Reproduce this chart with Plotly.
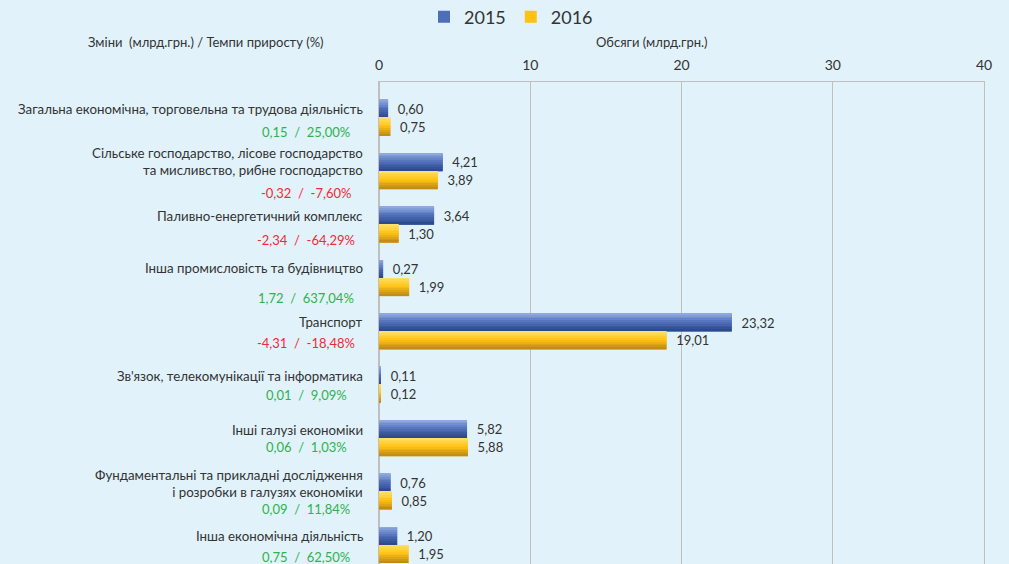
import plotly.graph_objects as go

# ---------------- data ----------------
categories = [
    "Загальна економічна, торговельна та трудова діяльність",
    "Сільське господарство, лісове господарство<br>та мисливство, рибне господарство",
    "Паливно-енергетичний комплекс",
    "Інша промисловість та будівництво",
    "Транспорт",
    "Зв'язок, телекомунікації та інформатика",
    "Інші галузі економіки",
    "Фундаментальні та прикладні дослідження<br>і розробки в галузях економіки",
    "Інша економічна діяльність",
]
v2015 = [0.60, 4.21, 3.64, 0.27, 23.32, 0.11, 5.82, 0.76, 1.20]
v2016 = [0.75, 3.89, 1.30, 1.99, 19.01, 0.12, 5.88, 0.85, 1.95]
changes = ["0,15", "-0,32", "-2,34", "1,72", "-4,31", "0,01", "0,06", "0,09", "0,75"]
growth = ["25,00%", "-7,60%", "-64,29%", "637,04%", "-18,48%", "9,09%", "1,03%", "11,84%", "62,50%"]
x_ticks = [0, 10, 20, 30, 40]
series_names = ["2015", "2016"]

# ---------------- styling ----------------
W, H = 1009, 564
TOP = 82
FONT = "Lato"
BG = "#E1F2FA"
TXT = "#333333"
GREEN = "#2DB34D"
RED = "#EE2B36"
GRID = "#BFBFBF"

# gradient stops (top, middle, bottom) for each series
grad = {
    "2015": [(150, 175, 226), (80, 112, 186), (40, 70, 135)],
    "2016": [(255, 226, 110), (255, 194, 18), (185, 135, 25)],
}
mid_col = {"2015": "#4E6EB8", "2016": "#FFC212"}

def interp(stops, t):
    if t <= 0.5:
        a, b, u = stops[0], stops[1], t / 0.5
    else:
        a, b, u = stops[1], stops[2], (t - 0.5) / 0.5
    return "rgb(%d,%d,%d)" % tuple(round(a[k] + (b[k] - a[k]) * u) for k in range(3))

pos = list(range(len(categories)))
band = 53.4              # px per category
h = 18.0 / band          # bar thickness in axis units
N = 10

fig = go.Figure()
for sname, vals, base_off in [("2015", v2015, -h), ("2016", v2016, 0.0)]:
    # base bar carrying legend + labels
    fig.add_trace(go.Bar(
        x=vals, y=pos, orientation="h", name=sname,
        offset=base_off, width=h,
        marker=dict(color=mid_col[sname], line=dict(width=0)),
        text=["\u00a0\u00a0" + f"{v:.2f}".replace(".", ",") for v in vals],
        textposition="outside", constraintext="none", cliponaxis=False,
        textfont=dict(family=FONT, size=13, color=TXT),
        hoverinfo="skip", showlegend=True,
    ))
    # gradient bands
    for i in range(N):
        t = (i + 0.5) / N
        fig.add_trace(go.Bar(
            x=vals, y=pos, orientation="h",
            offset=base_off + i * h / N, width=h / N * 1.08 if i < N - 1 else h / N,
            marker=dict(color=interp(grad[sname], t), line=dict(width=0)),
            hoverinfo="skip", showlegend=False,
        ))

# category labels and change annotations
label_shift = [9, 10, 9, 10, 10, 9, 8, 8, 9]
change_shift = [-14, -22, -15, -20, -11, -10, -9, -17, -12]
for i, cat in enumerate(categories):
    fig.add_annotation(
        x=365 / W, xref="paper", y=pos[i], yref="y", yshift=label_shift[i],
        text=cat, showarrow=False, xanchor="right", yanchor="middle", align="right",
        font=dict(family=FONT, size=13.3, color=TXT),
    )
    col = RED if changes[i].startswith("-") else GREEN
    fig.add_annotation(
        x=306 / W, xref="paper", y=pos[i], yref="y", yshift=change_shift[i],
        text=f"{changes[i]}  /  {growth[i]}", showarrow=False, xanchor="center",
        yanchor="middle", font=dict(family=FONT, size=13, color=col),
    )

# titles
fig.add_annotation(
    x=206 / W, xref="paper", y=(H - 42) / (H - TOP), yref="paper",
    text="Зміни  (млрд.грн.) / Темпи приросту (%)", showarrow=False,
    xanchor="center", yanchor="middle", font=dict(family=FONT, size=13, color=TXT),
)
fig.add_annotation(
    x=652 / W, xref="paper", y=(H - 42) / (H - TOP), yref="paper",
    text="Обсяги (млрд.грн.)", showarrow=False,
    xanchor="center", yanchor="middle", font=dict(family=FONT, size=13, color=TXT),
)

y_top = -36 / band
y_bot = (len(categories) - 1) + (H - 545) / band

fig.update_layout(
    width=W, height=H,
    margin=dict(l=0, r=0, t=TOP, b=0, autoexpand=False),
    paper_bgcolor=BG, plot_bgcolor=BG,
    barmode="overlay",
    legend=dict(orientation="h", x=424 / W, xanchor="left",
                y=(H - 17) / (H - TOP), yanchor="middle",
                font=dict(family=FONT, size=18, color=TXT),
                bgcolor="rgba(0,0,0,0)", itemwidth=30),
    xaxis=dict(domain=[379 / W, 984 / W], range=[0, 40], side="top",
               tickvals=x_ticks, ticktext=[str(t) for t in x_ticks],
               tickfont=dict(family=FONT, size=14, color=TXT),
               showgrid=True, gridcolor=GRID, gridwidth=1,
               zeroline=True, zerolinecolor=GRID, zerolinewidth=2,
               showline=True, linecolor=GRID, linewidth=1, mirror=True,
               ticks="", ticklabelstandoff=5, fixedrange=True, automargin=False),
    yaxis=dict(range=[y_bot, y_top], showticklabels=False, showgrid=False,
               zeroline=False, showline=True, linecolor=GRID, linewidth=1,
               mirror=True, ticks="", fixedrange=True, automargin=False),
    font=dict(family=FONT, color=TXT),
)

fig.write_html(
    "out.html",
    config={"displayModeBar": False},
    post_script="document.body.style.margin='0px';document.body.style.overflow='hidden';",
)
